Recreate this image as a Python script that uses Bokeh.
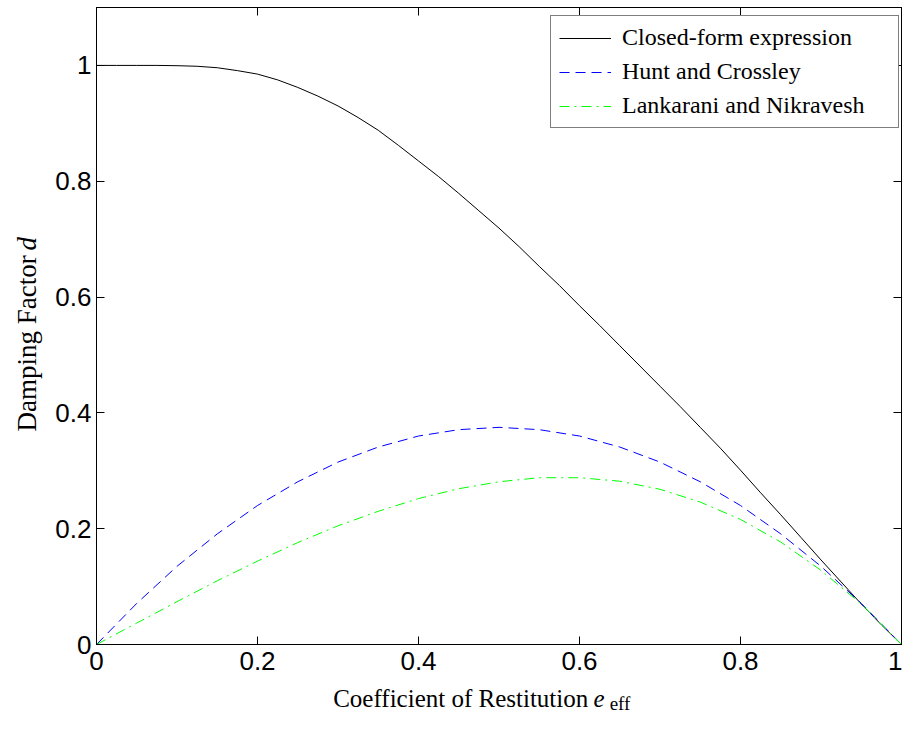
import math
from bokeh.plotting import figure
from bokeh.layouts import row, column
from bokeh.models import (LinearAxis, FixedTicker, CustomJSTickFormatter, Range1d,
                          Legend, LegendItem)
from bokeh.core.properties import value
from bokeh.embed import file_html
from bokeh.resources import INLINE

# ---- data ----
e_fine = [0.0, 0.025, 0.05, 0.075, 0.1, 0.125, 0.15, 0.175, 0.2, 0.225, 0.25, 0.275,
          0.3, 0.325, 0.35, 0.375, 0.4, 0.425, 0.45, 0.475, 0.5, 0.525, 0.55, 0.575,
          0.6, 0.625, 0.65, 0.675, 0.7, 0.725, 0.75, 0.775, 0.8, 0.825, 0.85, 0.875,
          0.9, 0.925, 0.95, 0.975, 1.0]
closed_form = [1.0, 1.0, 1.0, 1.0, 0.9995, 0.9985, 0.996, 0.991, 0.985, 0.975, 0.962, 0.947,
               0.93, 0.91, 0.888, 0.862, 0.835, 0.808, 0.779, 0.749, 0.719, 0.687, 0.653, 0.62,
               0.585, 0.551, 0.516, 0.481, 0.446, 0.411, 0.375, 0.339, 0.301, 0.262, 0.224, 0.185,
               0.146, 0.108, 0.07, 0.034, 0.0]

e_coarse = [0.0, 0.05, 0.1, 0.15, 0.2, 0.25, 0.3, 0.35, 0.4, 0.45, 0.5,
            0.55, 0.6, 0.65, 0.7, 0.75, 0.8, 0.85, 0.9, 0.95, 1.0]
hunt_crossley = [0.0, 0.071, 0.135, 0.191, 0.24, 0.281, 0.315, 0.341, 0.36, 0.371, 0.375,
                 0.371, 0.36, 0.341, 0.315, 0.281, 0.24, 0.191, 0.135, 0.071, 0.0]
lankarani_nikravesh = [0.0, 0.037, 0.074, 0.11, 0.144, 0.176, 0.205, 0.23, 0.252, 0.269, 0.281,
                       0.288, 0.288, 0.282, 0.268, 0.246, 0.216, 0.177, 0.128, 0.07, 0.0]

x_ticks = [0, 0.2, 0.4, 0.6, 0.8, 1.0]
y_ticks = [0, 0.2, 0.4, 0.6, 0.8, 1.0]
series_names = ["Closed-form expression", "Hunt and Crossley", "Lankarani and Nikravesh"]
x_title = ["Coefficient of Restitution", "e", "eff"]
y_title = ["Damping Factor", "d"]

SERIF = "Liberation Serif"
SANS = "Liberation Sans"

LEFT_W = 50
MAIN_W = 852
MAIN_H = 684
BOT_H = 36

# ---------------- main plot ----------------
p = figure(width=MAIN_W, height=MAIN_H, x_range=Range1d(0, 1), y_range=Range1d(0, 1.1),
           output_backend="svg", toolbar_location=None,
           min_border_left=46, min_border_right=1, min_border_top=7, min_border_bottom=40)
p.xgrid.visible = False
p.ygrid.visible = False
p.outline_line_color = "black"
p.background_fill_color = "white"
p.border_fill_color = "white"

fmt = CustomJSTickFormatter(code="return String(Math.round(tick*10)/10);")

xa = p.xaxis[0]
xa.ticker = FixedTicker(ticks=x_ticks)
ya = p.yaxis[0]
ya.ticker = FixedTicker(ticks=y_ticks)
for ax in (xa, ya):
    ax.axis_line_color = "black"
    ax.major_tick_in = 8
    ax.major_tick_out = 0
    ax.major_tick_line_color = "black"
    ax.minor_tick_line_color = None
    ax.formatter = fmt
    ax.major_label_text_font = SANS
    ax.major_label_text_font_size = "26px"
    ax.major_label_text_color = "black"
xa.major_label_standoff = 7
ya.major_label_standoff = 5

top = LinearAxis(ticker=FixedTicker(ticks=x_ticks))
right = LinearAxis(ticker=FixedTicker(ticks=y_ticks))
for ax in (top, right):
    ax.axis_line_color = "black"
    ax.major_tick_in = 8
    ax.major_tick_out = 0
    ax.major_tick_line_color = "black"
    ax.minor_tick_line_color = None
    ax.major_label_text_font_size = "1px"
    ax.major_label_text_color = None
    ax.major_label_standoff = 0
    ax.formatter = fmt
p.add_layout(top, "above")
p.add_layout(right, "right")

r1 = p.line(e_fine, closed_form, line_color="black", line_width=1)
r2 = p.line(e_coarse, hunt_crossley, line_color="#0000ff", line_width=1, line_dash="10 6")
r3 = p.line(e_coarse, lankarani_nikravesh, line_color="#00ff00", line_width=1,
            line_dash="10 5 2 5")

legend = Legend(items=[LegendItem(label=series_names[0], renderers=[r1]),
                       LegendItem(label=series_names[1], renderers=[r2]),
                       LegendItem(label=series_names[2], renderers=[r3])],
                location=(454, 516))
legend.label_text_font = SERIF
legend.label_text_font_size = "24px"
legend.label_text_color = "black"
legend.border_line_color = "black"
legend.border_line_width = 1
legend.background_fill_color = "white"
legend.background_fill_alpha = 1.0
legend.glyph_width = 52
legend.glyph_height = 22
legend.label_height = 22
legend.label_standoff = 11
legend.label_width = 268
legend.padding = 8
legend.spacing = 7
legend.margin = 0
p.add_layout(legend)

# ---------------- title strips ----------------
def strip(w, h, x_range=None):
    f = figure(width=w, height=h, x_range=x_range if x_range is not None else Range1d(0, w),
               y_range=Range1d(0, h),
               output_backend="svg", toolbar_location=None, min_border=0,
               x_axis_location=None, y_axis_location=None)
    f.xgrid.visible = False
    f.ygrid.visible = False
    f.outline_line_color = None
    f.background_fill_color = "white"
    f.border_fill_color = "white"
    return f

# bottom strip shares the main x range (its frame is aligned with the main frame)
bot = strip(MAIN_W, BOT_H, x_range=p.x_range)
bot.text(x=[0.294], y=[22], text=[x_title[0]], text_font=value(SERIF), text_font_size="25px",
         text_align="left", text_baseline="alphabetic", text_color="black")
bot.text(x=[0.6175], y=[22], text=[x_title[1]], text_font=value(SERIF), text_font_size="25px",
         text_font_style="italic", text_align="left", text_baseline="alphabetic",
         text_color="black")
bot.text(x=[0.6375], y=[17], text=[x_title[2]], text_font=value(SERIF), text_font_size="19px",
         text_align="left", text_baseline="alphabetic", text_color="black")

TOTAL_H = MAIN_H + BOT_H
lft = strip(LEFT_W, TOTAL_H)
lft.text(x=[26], y=[TOTAL_H - 431], text=[y_title[0]], text_font=value(SERIF),
         text_font_size="27px", angle=math.pi / 2, text_align="left",
         text_baseline="alphabetic", text_color="black")
lft.text(x=[26], y=[TOTAL_H - 250], text=[y_title[1]], text_font=value(SERIF),
         text_font_size="27px", text_font_style="italic", angle=math.pi / 2,
         text_align="left", text_baseline="alphabetic", text_color="black")

layout = row(lft, column(p, bot, spacing=0), spacing=0)
open("out.html", "w").write(file_html(layout, INLINE))
